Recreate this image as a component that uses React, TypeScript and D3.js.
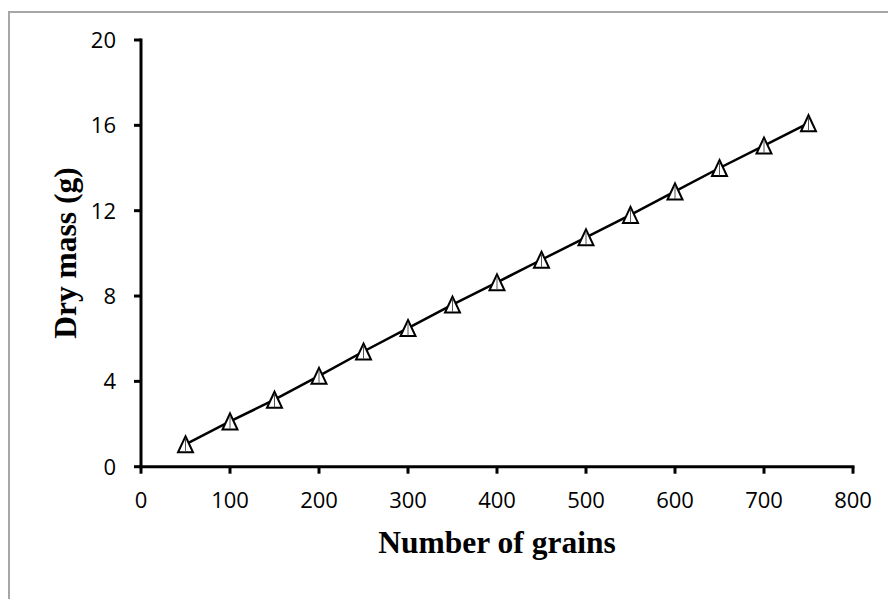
import React from "react";
import * as d3 from "d3";

const grains = [50, 100, 150, 200, 250, 300, 350, 400, 450, 500, 550, 600, 650, 700, 750];
const dryMass = [1.05, 2.12, 3.14, 4.26, 5.4, 6.5, 7.6, 8.64, 9.7, 10.75, 11.8, 12.9, 14.0, 15.05, 16.1];
const xTicks = [0, 100, 200, 300, 400, 500, 600, 700, 800];
const yTicks = [0, 4, 8, 12, 16, 20];

export default function App() {
  const W = 888, H = 599;
  const x = d3.scaleLinear().domain([0, 800]).range([141, 853]);
  const y = d3.scaleLinear().domain([0, 20]).range([466.7, 40]);
  const pts = grains.map((g, i) => [x(g), y(dryMass[i])] as [number, number]);
  const line = d3.line()(pts) || "";
  const tri = (cx: number, cy: number) => {
    const hw = 7.5, hh = 8;
    return `M${cx},${cy - hh}L${cx + hw},${cy + hh}L${cx - hw},${cy + hh}Z`;
  };
  const sans = "'Open Sans', 'Liberation Sans', sans-serif";
  const serif = "'Liberation Serif', 'Times New Roman', serif";
  return (
    <svg width={W} height={H} style={{ position: "absolute", left: 0, top: 0, background: "#fff" }}>
      <rect x={9} y={12} width={W + 20} height={H + 20} fill="#fff" stroke="#a6a6a6" strokeWidth={2} />
      <line x1={x(0)} x2={x(0)} y1={y(20) - 1.5} y2={y(0) + 1.5} stroke="#000" strokeWidth={3} />
      <line x1={x(0) - 1.5} x2={x(800) + 1.5} y1={y(0)} y2={y(0)} stroke="#000" strokeWidth={3} />
      {yTicks.map((t) => (
        <g key={"y" + t}>
          <line x1={x(0) - 7} x2={x(0)} y1={y(t)} y2={y(t)} stroke="#000" strokeWidth={3} />
          <text x={116} y={y(t)} dy="0.36em" textAnchor="end" fontFamily={sans} fontSize={22} fill="#000">
            {t}
          </text>
        </g>
      ))}
      {xTicks.map((t) => (
        <g key={"x" + t}>
          <line x1={x(t)} x2={x(t)} y1={y(0)} y2={y(0) + 7} stroke="#000" strokeWidth={3} />
          <text x={x(t)} y={500} dy="0.36em" textAnchor="middle" fontFamily={sans} fontSize={22} fill="#000">
            {t}
          </text>
        </g>
      ))}
      <path d={line} fill="none" stroke="#000" strokeWidth={2.5} />
      {pts.map(([cx, cy], i) => (
        <g key={"p" + i}>
          <path d={tri(cx, cy)} fill="#fff" stroke="#000" strokeWidth={2} strokeLinejoin="miter" />
          <line x1={cx} x2={cx} y1={cy - 6} y2={cy + 7.5} stroke="#555" strokeWidth={1} />
        </g>
      ))}
      <text x={497} y={553} textAnchor="middle" fontFamily={serif} fontWeight="bold" fontSize={31.5} fill="#000">
        Number of grains
      </text>
      <text
        transform={`translate(76,${253}) rotate(-90)`}
        textAnchor="middle"
        fontFamily={serif}
        fontWeight="bold"
        fontSize={31.5}
        fill="#000"
      >
        Dry mass (g)
      </text>
    </svg>
  );
}
